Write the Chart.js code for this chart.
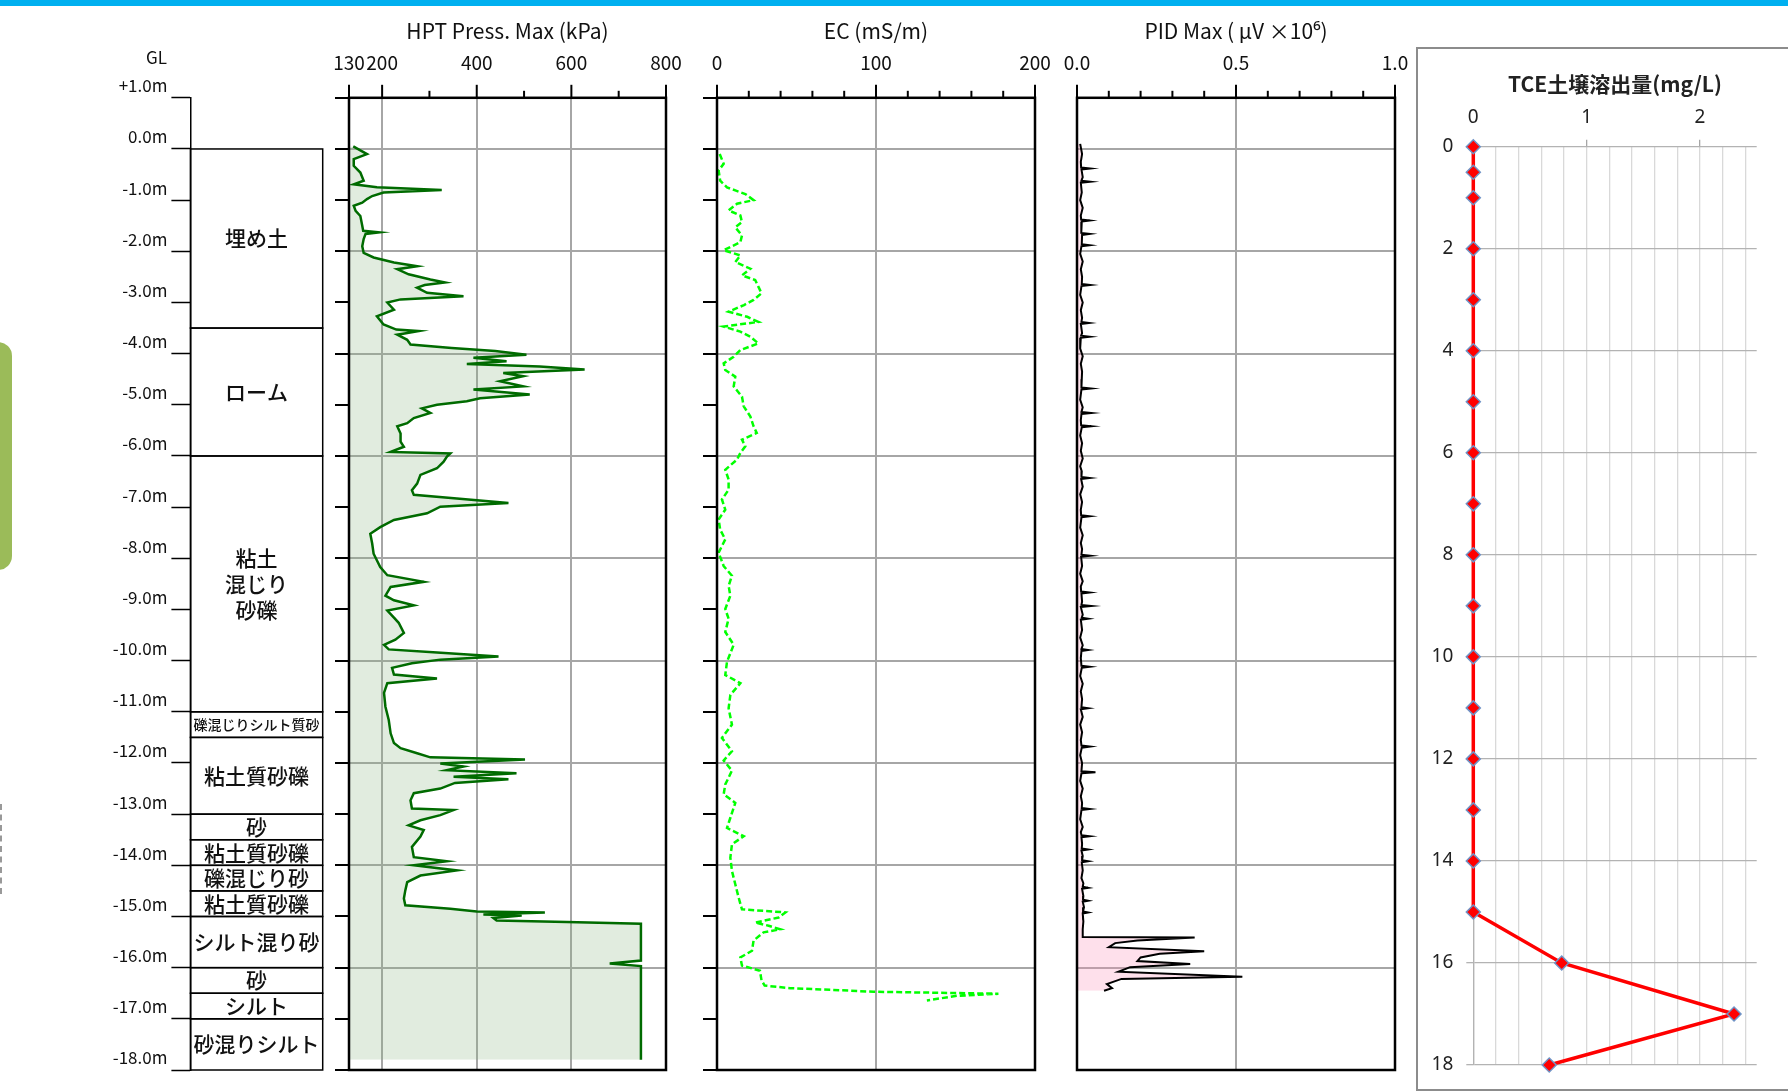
<!DOCTYPE html>
<html>
<head>
<meta charset="utf-8">
<script src="https://cdn.jsdelivr.net/npm/chart.js"></script>
<style>
  body { margin: 0; width: 1788px; height: 1091px; overflow: hidden; background: #fff; position: relative; }
  canvas { position: absolute; }
  #bar { position: absolute; left: 0; top: 0; width: 1788px; height: 6px; background: #00B0F0; }
  #tab { position: absolute; left: -20px; top: 342px; width: 32px; height: 228px; border-radius: 14px; background: #9BBB59; }
  #dash { position: absolute; left: 0; top: 804px; height: 90px; border-left: 2px dashed #999; }
  #tceBox { position: absolute; left: 1416px; top: 47px; width: 420px; height: 1040px; border: 2px solid #8C8C8C; }
</style>
</head>
<body>
<div id="bar"></div><div id="tab"></div><div id="dash"></div><div id="tceBox"></div>
<canvas id="depth"></canvas>
<canvas id="hpt"></canvas>
<canvas id="ec"></canvas>
<canvas id="pid"></canvas>
<canvas id="tce"></canvas>
<script>
// ---- data ----
const depthTicks = [-1,0,1,2,3,4,5,6,7,8,9,10,11,12,13,14,15,16,17,18];
const depthTickLabels = ['+1.0m','0.0m','-1.0m','-2.0m','-3.0m','-4.0m','-5.0m','-6.0m','-7.0m','-8.0m','-9.0m',
  '-10.0m','-11.0m','-12.0m','-13.0m','-14.0m','-15.0m','-16.0m','-17.0m','-18.0m'];

// soil column (depth in m below GL)
const layerTop    = [0, 3.5, 6, 11, 11.5, 13, 13.5, 14, 14.5, 15, 16, 16.5, 17];
const layerBottom = [3.5, 6, 11, 11.5, 13, 13.5, 14, 14.5, 15, 16, 16.5, 17, 18];
const layerName   = ['埋め土', 'ローム', '粘土\n混じり\n砂礫', '礫混じりシルト質砂', '粘土質砂礫', '砂', '粘土質砂礫',
  '礫混じり砂', '粘土質砂礫', 'シルト混り砂', '砂', 'シルト', '砂混りシルト'];

// HPT Press. Max (kPa)
const hptTicks = [130,200,300,400,500,600,700,800];
const hptTickLabels = ['130','200','','400','','600','','800'];
const hptGrid = [200,400,600];
const hptDepth = [-0.05,0.1,0.2,0.33,0.46,0.62,0.69,0.75,0.8,0.85,
  0.92,0.98,1.05,1.11,1.21,1.31,1.5,1.6,1.63,1.66,
  1.76,1.9,2.03,2.12,2.22,2.29,2.35,2.45,2.55,2.61,
  2.66,2.71,2.81,2.88,2.94,3.0,3.14,3.27,3.43,3.53,
  3.56,3.63,3.73,3.82,3.89,3.95,4.02,4.08,4.15,4.2,
  4.25,4.31,4.38,4.44,4.54,4.64,4.7,4.8,4.87,4.93,
  5.0,5.07,5.16,5.26,5.36,5.42,5.56,5.72,5.82,5.92,
  5.95,6.01,6.11,6.24,6.37,6.54,6.67,6.76,6.83,6.92,
  6.99,7.12,7.25,7.39,7.52,7.71,7.91,8.17,8.33,8.46,
  8.56,8.73,8.82,8.92,9.02,9.16,9.26,9.46,9.59,9.69,
  9.78,9.84,9.92,9.98,10.05,10.14,10.27,10.35,10.44,10.63,
  10.9,11.16,11.42,11.61,11.71,11.81,11.89,11.93,12.01,12.07,
  12.14,12.2,12.27,12.32,12.39,12.5,12.59,12.73,12.89,12.92,
  13.02,13.12,13.22,13.31,13.44,13.64,13.84,13.92,14.0,14.1,
  14.2,14.33,14.49,14.65,14.78,14.85,14.9,14.92,14.96,14.98,
  15.03,15.08,15.11,15.14,15.86,15.92,15.97,17.8];
const hptPress = [139,168,140,140,154,161,140,189,326,203,
  179,168,158,140,144,154,158,160,193,165,
  161,158,161,182,225,274,232,256,302,333,
  290,274,295,372,239,211,225,189,203,230,
  277,232,253,260,347,439,505,393,463,379,
  533,628,456,498,449,498,393,512,407,379,
  316,284,302,267,253,232,239,239,246,218,
  344,337,330,316,281,274,263,267,358,467,
  323,295,225,196,175,179,182,196,211,288,
  218,207,225,267,211,225,235,246,228,204,
  214,316,446,323,263,221,225,316,211,204,
  207,214,218,225,239,274,302,502,323,372,
  337,484,351,467,354,323,267,260,263,351,
  323,281,256,288,281,263,267,337,267,358,
  281,253,249,246,249,344,400,544,414,495,
  435,442,590,747,747,681,747,747];

// EC (mS/m)
const ecTicks = [0,20,40,60,80,100,120,140,160,180,200];
const ecTickLabels = ['0','','','','','100','','','','','200'];
const ecGrid = [100];
const ecDepth = [0.1,0.29,0.42,0.62,0.75,0.81,0.88,1.0,1.07,1.2,
  1.3,1.43,1.53,1.69,1.82,1.98,2.08,2.21,2.34,2.47,
  2.56,2.69,2.82,2.95,3.05,3.18,3.28,3.38,3.47,3.57,
  3.67,3.8,3.93,4.06,4.19,4.32,4.45,4.64,4.84,5.03,
  5.23,5.42,5.55,5.68,5.81,5.94,6.07,6.27,6.46,6.66,
  6.85,7.05,7.24,7.44,7.63,7.89,8.15,8.34,8.54,8.73,
  8.99,9.18,9.44,9.69,10.02,10.28,10.44,10.67,10.93,11.25,
  11.51,11.77,11.95,12.15,12.42,12.61,12.78,13.07,13.27,13.43,
  13.59,13.85,14.11,14.37,14.63,14.86,14.92,15.02,15.12,15.18,
  15.25,15.31,15.47,15.67,15.8,15.96,16.06,16.25,16.35,16.4,
  16.47,16.51,16.55,16.64];
const ecValue = [1.7,4.2,1,2,6.3,11.5,17.8,23,12.6,7.3,
  14.7,15.7,11.5,15.7,14.7,4.2,14.7,11.5,21,15.7,
  24,26,28,23,17,7.3,19,26,4.2,14.7,
  21,26,14.7,10.5,4.2,5.2,11.5,10.5,15.7,16.8,
  21,23,25,15.7,17.8,14.7,12.6,5.2,7.3,7.3,
  3.1,5.2,1,2,5.2,1,4.2,9.4,7.3,8.4,
  5.2,7.3,5.2,10.5,6.3,5.2,14.7,8.4,7.3,9.4,
  3.1,9.4,4.2,9.4,5.2,4.2,11.5,8.4,6.3,16.8,
  9.4,8.4,9.4,11.5,13.6,15.7,43,38.8,24,32.5,
  39.8,29.3,23,22,14.7,15.7,27,28,30,46,
  98.5,177,151,132];

// PID Max (μV x10^6)
const pidTicks = [0,0.1,0.2,0.3,0.4,0.5,0.6,0.7,0.8,0.9,1.0];
const pidTickLabels = ['0.0','','','','','0.5','','','','','1.0'];
const pidGrid = [0.5];
const pidDepth = [-0.1,0.1,0.25,0.36,0.38,0.40,0.55,0.62,0.64,0.66,
  0.85,1.0,1.15,1.3,1.38,1.4,1.42,1.6,1.64,1.66,
  1.68,1.86,1.88,1.90,2.05,2.2,2.35,2.5,2.64,2.66,
  2.68,2.85,3.0,3.15,3.3,3.38,3.4,3.42,3.6,3.65,
  3.67,3.69,3.9,4.05,4.2,4.35,4.5,4.66,4.68,4.70,
  4.9,5.05,5.14,5.16,5.18,5.3,5.40,5.42,5.44,5.6,
  5.75,5.9,6.05,6.2,6.3,6.41,6.43,6.45,6.6,6.75,
  6.9,7.05,7.16,7.18,7.20,7.4,7.55,7.7,7.82,7.93,
  7.95,7.97,8.15,8.3,8.45,8.55,8.65,8.67,8.69,8.85,
  8.91,8.93,8.95,9.1,9.16,9.18,9.20,9.4,9.55,9.7,
  9.77,9.79,9.81,9.95,10.10,10.12,10.14,10.3,10.45,10.6,
  10.75,10.91,10.93,10.95,11.1,11.25,11.4,11.55,11.66,11.68,
  11.70,11.85,12.0,12.16,12.18,12.20,12.35,12.5,12.65,12.78,
  12.88,12.9,12.92,13.1,13.25,13.35,13.41,13.43,13.45,13.58,
  13.67,13.69,13.71,13.82,13.90,13.92,13.94,14.1,14.25,14.35,
  14.42,14.44,14.46,14.6,14.67,14.69,14.71,14.82,14.90,14.92,
  14.94,15.1,15.25,15.4,15.41,15.47,15.52,15.6,15.68,15.73,
  15.8,15.87,15.93,15.99,16.08,16.18,16.22,16.32,16.4,16.45];
const pidValue = [0.010,0.016,0.012,0.013,0.042,0.014,0.018,0.014,0.042,0.012,
  0.015,0.010,0.018,0.012,0.013,0.040,0.015,0.013,0.014,0.040,
  0.016,0.015,0.040,0.014,0.010,0.018,0.012,0.016,0.015,0.042,
  0.014,0.010,0.018,0.012,0.016,0.014,0.038,0.012,0.016,0.013,
  0.040,0.012,0.010,0.018,0.012,0.016,0.015,0.014,0.044,0.014,
  0.010,0.018,0.014,0.045,0.014,0.012,0.013,0.045,0.015,0.010,
  0.016,0.012,0.018,0.010,0.015,0.014,0.040,0.013,0.018,0.010,
  0.016,0.012,0.013,0.040,0.014,0.010,0.018,0.012,0.016,0.014,
  0.042,0.013,0.016,0.010,0.018,0.012,0.013,0.040,0.014,0.016,
  0.014,0.045,0.012,0.018,0.015,0.035,0.012,0.016,0.010,0.018,
  0.014,0.035,0.014,0.012,0.014,0.040,0.015,0.010,0.018,0.012,
  0.016,0.014,0.035,0.012,0.018,0.010,0.016,0.012,0.014,0.040,
  0.015,0.010,0.016,0.014,0.058,0.014,0.010,0.018,0.012,0.016,
  0.015,0.040,0.014,0.010,0.018,0.012,0.014,0.040,0.014,0.016,
  0.015,0.035,0.014,0.018,0.016,0.035,0.015,0.018,0.014,0.020,
  0.018,0.035,0.016,0.020,0.019,0.035,0.018,0.022,0.019,0.035,
  0.018,0.020,0.018,0.018,0.37,0.19,0.12,0.10,0.40,0.26,
  0.20,0.19,0.356,0.167,0.13,0.52,0.14,0.094,0.11,0.085];

// TCE 土壌溶出量 (mg/L)
const tceDepth = [0,0.5,1,2,3,4,5,6,7,8,9,10,11,12,13,14,15,16,17,18];
const tceValue = [0,0,0,0,0,0,0,0,0,0,0,0,0,0,0,0,0,0.78,2.3,0.67];
const tceXTicks = [0,0.2,0.4,0.6,0.8,1,1.2,1.4,1.6,1.8,2,2.2,2.4];
const tceXTickLabels = ['0','','','','','1','','','','','2','',''];
const tceYTicks = [0,2,4,6,8,10,12,14,16,18];
const tceYTickLabels = ['0','2','4','6','8','10','12','14','16','18'];

// ---- layout ----
const PAGE_H = 1091;
const PLOT_TOP = 97.8, PLOT_BOTTOM = 1070;
const FONT = '"Noto Sans CJK JP", "Noto Sans", sans-serif';
const GRID = '#A6A6A6';

function place(id, left, top, width, height) {
  const c = document.getElementById(id);
  c.width = Math.round(width); c.height = Math.round(height);
  c.style.left = left + 'px'; c.style.top = top + 'px';
  c.style.width = Math.round(width) + 'px'; c.style.height = Math.round(height) + 'px';
  return c;
}

// soil column with depth labels
const layerPlugin = {
  id: 'layers',
  afterDraw(chart) {
    const {ctx, chartArea: a, scales: {y}} = chart;
    ctx.save();
    ctx.strokeStyle = '#000';
    ctx.lineWidth = 1.5;
    ctx.fillStyle = '#111';
    ctx.textAlign = 'center';
    ctx.textBaseline = 'middle';
    layerTop.forEach((top, i) => {
      const y0 = y.getPixelForValue(top), y1 = y.getPixelForValue(layerBottom[i]);
      ctx.strokeRect(a.left, y0, a.right - a.left, y1 - y0);
      const lines = layerName[i].split('\n');
      const longest = Math.max(...lines.map(l => l.length));
      const size = longest > 8 ? 14 : 21;
      ctx.font = '500 ' + size + 'px ' + FONT;
      const cy = (y0 + y1) / 2;
      lines.forEach((ln, k) => ctx.fillText(ln, (a.left + a.right) / 2, cy + (k - (lines.length - 1) / 2) * size * 1.22));
    });
    ctx.font = '17px ' + FONT;
    ctx.fillText('GL', a.left - 34, y.getPixelForValue(-1) - 40);
    ctx.restore();
  }
};

const depthCanvas = place('depth', 100, 0, 230, PAGE_H);
new Chart(depthCanvas, {
  type: 'scatter',
  data: {datasets: [{data: []}]},
  options: {
    responsive: false, animation: false, events: [],
    layout: {padding: {left: 0, right: 7.3, top: PLOT_TOP, bottom: PAGE_H - PLOT_BOTTOM}},
    plugins: {legend: {display: false}, tooltip: {enabled: false}},
    scales: {
      x: {display: false, min: 0, max: 1},
      y: {
        type: 'linear', reverse: true, min: -1, max: 18,
        afterBuildTicks: s => { s.ticks = depthTicks.map(v => ({value: v})); },
        afterFit: s => { s.width = 90.4; s.paddingTop = 0; s.paddingBottom = 0; },
        border: {display: true, color: '#000', width: 1.5},
        grid: {drawOnChartArea: false, drawTicks: true, tickLength: 19, tickColor: '#000', tickWidth: 1.5},
        ticks: {autoSkip: false, padding: 4, labelOffset: -12, color: '#111', font: {family: FONT, size: 17},
                callback: (v, i) => depthTickLabels[i]}
      }
    }
  },
  plugins: [layerPlugin]
});

// one log track (depth down, value across)
function logChart(id, plotLeft, plotRight, s) {
  const padL = 30, padR = 26;
  const canvas = place(id, plotLeft - padL, 0, plotRight - plotLeft + padL + padR, PAGE_H);
  const frame = {
    id: 'frame_' + id,
    afterDraw(chart) {
      const {ctx, chartArea: a, scales: {x}} = chart;
      ctx.save();
      ctx.strokeStyle = '#000';
      ctx.lineWidth = 2;
      x.ticks.forEach((t, i) => {
        const px = x.getPixelForValue(t.value);
        ctx.beginPath();
        ctx.moveTo(px, a.top);
        ctx.lineTo(px, a.top - (s.tickLabels[i] ? 13 : 7));
        ctx.stroke();
      });
      ctx.lineWidth = 2.5;
      ctx.strokeRect(a.left, a.top, a.right - a.left, a.bottom - a.top);
      ctx.restore();
    }
  };
  return new Chart(canvas, {
    type: 'line',
    data: {
      datasets: [{
        data: s.depth.map((d, i) => ({x: s.value[i], y: d})),
        borderColor: s.color, borderWidth: s.width, borderDash: s.dash || [],
        backgroundColor: s.fill || 'transparent',
        fill: s.fill ? {value: s.ticks[0]} : false,
        pointRadius: 0, tension: 0
      }]
    },
    options: {
      indexAxis: 'y', responsive: false, animation: false, events: [],
      layout: {padding: {left: padL - s.tickLen, right: padR, top: 0, bottom: PAGE_H - PLOT_BOTTOM}},
      plugins: {legend: {display: false}, tooltip: {enabled: false}},
      scales: {
        x: {
          type: 'linear', position: 'top', min: s.ticks[0], max: s.ticks[s.ticks.length - 1],
          afterBuildTicks: sc => { sc.ticks = s.ticks.map(v => ({value: v})); },
          afterFit: sc => { sc.height = PLOT_TOP; sc.paddingLeft = 0; sc.paddingRight = 0; },
          border: {display: false},
          grid: {drawTicks: false, lineWidth: 2, color: c => s.grid.includes(c.tick.value) ? GRID : 'rgba(0,0,0,0)'},
          ticks: {autoSkip: false, maxRotation: 0, padding: 24, color: '#111', font: {family: FONT, size: 19},
                  callback: (v, i) => s.tickLabels[i]},
          title: {display: true, text: s.title, color: '#111', font: {family: FONT, size: 21}, padding: {top: 18, bottom: 0}}
        },
        y: {
          type: 'linear', reverse: true, min: -1, max: 18, position: 'left',
          afterBuildTicks: sc => { sc.ticks = depthTicks.map(v => ({value: v})); },
          afterFit: sc => { sc.width = s.tickLen; sc.paddingTop = 0; sc.paddingBottom = 0; },
          border: {display: false},
          ticks: {display: false},
          grid: {
            drawTicks: s.tickLen > 0, tickLength: s.tickLen, tickWidth: 2, tickColor: '#000', lineWidth: 2,
            color: c => (c.tick.value >= 0 && c.tick.value < 18 && c.tick.value % 2 === 0) ? GRID : 'rgba(0,0,0,0)'
          }
        }
      }
    },
    plugins: [frame]
  });
}

logChart('hpt', 348.6, 666, {
  title: 'HPT Press. Max (kPa)', ticks: hptTicks, tickLabels: hptTickLabels, grid: hptGrid,
  depth: hptDepth, value: hptPress, color: '#006B00', width: 2.5, fill: 'rgba(135,179,127,0.25)', tickLen: 14
});
logChart('ec', 716.7, 1035, {
  title: 'EC (mS/m)', ticks: ecTicks, tickLabels: ecTickLabels, grid: ecGrid,
  depth: ecDepth, value: ecValue, color: '#00FF00', width: 2.5, dash: [6, 3], tickLen: 14
});
logChart('pid', 1076.7, 1395, {
  title: 'PID Max ( μV ×10⁶)', ticks: pidTicks, tickLabels: pidTickLabels, grid: pidGrid,
  depth: pidDepth, value: pidValue, color: '#000', width: 2, fill: 'rgba(250,140,180,0.27)', tickLen: 0
});

// TCE chart (Excel style)
const tceLeft = 1419, tceTop = 49;
const tceCanvas = place('tce', tceLeft, tceTop, 1788 - tceLeft, 1089 - tceTop);
new Chart(tceCanvas, {
  type: 'scatter',
  data: {
    datasets: [{
      data: tceDepth.map((d, i) => ({x: tceValue[i], y: d})),
      showLine: true, clip: false,
      borderColor: '#FF0000', borderWidth: 3.5,
      pointStyle: 'rectRot', pointRadius: 7, pointBorderWidth: 1.5,
      pointBackgroundColor: '#FF0000', pointBorderColor: '#6F93C6'
    }]
  },
  options: {
    responsive: false, animation: false, events: [],
    layout: {padding: {left: 0, top: 0, right: 1788 - 1756.7, bottom: 1089 - 1065}},
    plugins: {legend: {display: false}, tooltip: {enabled: false}},
    scales: {
      x: {
        type: 'linear', position: 'top', min: 0, max: 2.5,
        afterBuildTicks: sc => { sc.ticks = tceXTicks.map(v => ({value: v})); },
        afterFit: sc => { sc.height = 146.7 - tceTop; sc.paddingLeft = 0; sc.paddingRight = 0; },
        border: {display: false},
        grid: {color: '#D9D9D9', lineWidth: 1.3, drawTicks: true, tickLength: 7,
               tickColor: c => (tceXTickLabels[c.index] && c.tick.value > 0) ? '#A6A6A6' : 'rgba(0,0,0,0)'},
        ticks: {autoSkip: false, maxRotation: 0, padding: 11, color: '#222', font: {family: '"Noto Sans"', size: 19},
                callback: (v, i) => tceXTickLabels[i]},
        title: {display: true, text: 'TCE土壌溶出量(mg/L)', color: '#222',
                font: {family: FONT, size: 21, weight: 'bold'}, padding: {top: 22, bottom: 0}}
      },
      y: {
        type: 'linear', reverse: true, min: 0, max: 18,
        afterBuildTicks: sc => { sc.ticks = tceYTicks.map(v => ({value: v})); },
        afterFit: sc => { sc.width = 1473.3 - tceLeft; sc.paddingTop = 0; sc.paddingBottom = 0; },
        border: {display: true, color: '#B3B3B3', width: 1.3},
        grid: {color: '#B3B3B3', lineWidth: 1.3, tickLength: 7, tickColor: '#B3B3B3'},
        ticks: {autoSkip: false, padding: 13, color: '#222', font: {family: '"Noto Sans"', size: 19},
                callback: (v, i) => tceYTickLabels[i]}
      }
    }
  }
});
</script>
</body>
</html>
